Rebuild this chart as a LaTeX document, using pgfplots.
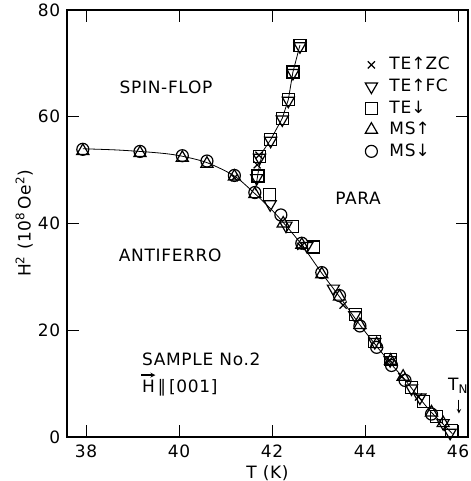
\documentclass[border=0pt]{standalone}
\usepackage{fontspec}
\setmainfont{DejaVu Sans}[LetterSpace=4]
\newfontfamily\sym{DejaVu Sans}
\usepackage{pgfplots}
\pgfplotsset{compat=1.18}
\begin{document}
\fontsize{17}{20}\selectfont
\begin{tikzpicture}
\begin{axis}[
 scale only axis, width=401pt, height=427pt,
 xmin=37.59, xmax=46.215, ymin=0, ymax=80,
 xtick={38,40,42,44,46}, ytick={0,20,40,60,80},
 tick align=inside, major tick length=12pt,
 tick style={line width=1pt, black},
 axis line style={line width=1.6pt},
 /pgf/number format/assume math mode=true,
 xticklabel style={yshift=-2pt},
 yticklabel style={xshift=-1pt},
 xlabel={T (K)},
 ylabel={H\textsuperscript{2} (10\textsuperscript{8}\,Oe\textsuperscript{2})},
 xlabel style={at={(axis description cs:0.5,-0.084)}, anchor=center},
 ylabel style={at={(axis description cs:-0.107,0.5)}, anchor=center},
 legend style={draw=none, fill=none, at={(rel axis cs:0.736,0.899)}, anchor=north west, row sep=2.5pt},
 legend cell align=left,
 clip=false,
]
% phase boundary lines
\addplot[black, line width=0.8pt, smooth, forget plot] table {
37.93 54.0
38.60 53.8
39.16 53.5
39.70 53.1
40.07 52.6
40.60 51.4
41.19 48.9
41.63 45.6
42.00 42.5
42.24 40.2
42.64 36.0
43.07 30.7
43.45 26.3
43.89 21.0
44.25 17.0
44.57 13.6
44.86 10.7
45.15 7.5
45.43 4.6
45.68 2.4
45.88 0.6
};
\addplot[black, line width=0.8pt, forget plot] table {
41.64 46.2
41.71 50.0
41.80 53.5
41.97 55.7
42.22 59.7
42.35 63.2
42.45 68.4
42.60 73.4
};
% TE up ZC
\addplot[only marks, mark=x, mark size=5pt, mark options={line width=1.2pt, black}] table {
41.19 48.6
41.68 51.0
41.72 52.8
42.62 35.7
43.53 24.7
44.53 14.4
44.79 11.3
45.15 7.5
};
% TE up FC
\addplot[only marks, mark=triangle, mark size=7pt, mark options={rotate=180, line width=1.2pt, black, fill=none}] table {
42.60 73.2
42.45 68.2
42.35 63.0
42.22 59.5
41.97 55.5
41.73 52.3
41.67 48.5
41.96 43.6
42.30 39.6
42.75 35.8
43.32 27.8
43.78 22.8
44.21 17.8
44.54 14.4
45.00 9.1
45.18 7.4
45.68 2.6
45.83 0.8
};
% TE down
\addplot[only marks, mark=square, mark size=6pt, mark options={line width=1.2pt, black, fill=none}] table {
42.60 73.4
42.45 68.4
42.35 63.2
42.22 59.7
41.97 55.7
41.73 52.5
41.70 48.9
41.94 45.5
42.44 39.4
42.89 35.6
43.80 22.9
44.21 17.9
44.54 14.5
45.00 9.3
45.25 6.6
45.54 3.8
45.86 1.2
};
% MS up
\addplot[only marks, mark=triangle, mark size=7pt, mark options={line width=1.2pt, black, fill=none}] table {
37.93 53.6
39.16 53.2
40.07 52.3
40.60 51.2
41.19 48.8
41.63 45.5
42.24 40.0
42.64 36.0
43.07 30.5
43.45 26.3
43.89 21.0
44.25 17.4
44.55 14.3
44.82 11.3
45.43 4.6
45.68 2.6
};
% MS down
\addplot[only marks, mark=o, mark size=6pt, mark options={line width=1.2pt, black, fill=none}] table {
37.93 53.9
39.16 53.5
40.07 52.7
40.60 51.7
41.19 49.0
41.63 45.8
42.19 41.6
42.64 36.3
43.07 30.8
43.45 26.5
43.89 20.8
44.25 16.8
44.57 13.4
44.86 10.6
45.43 4.3
};
\legend{\hspace{10pt}TE{\sym↑}ZC, \hspace{10pt}TE{\sym↑}FC, \hspace{10pt}TE{\sym↓}, \hspace{10pt}MS{\sym↑}, \hspace{10pt}MS{\sym↓}}
\node at (axis cs:39.72,65.6) {SPIN-FLOP};
\node at (axis cs:39.81,34.1) {ANTIFERRO};
\node at (axis cs:43.85,44.8) {PARA};
\node[anchor=west, inner sep=0pt] at (axis cs:39.2,14.6) {SAMPLE No.2};
\node[anchor=west, inner sep=0pt] at (axis cs:39.2,9.3) {H\,{\sym ∥}\,[001]};
\draw[-stealth, line width=1.2pt] (axis cs:39.19,11.6) -- (axis cs:39.49,11.6);
\node at (axis cs:46.0,9.6) {T\textsubscript{N}};
\draw[-stealth, line width=1pt] (axis cs:46.02,7.0) -- (axis cs:46.02,4.4);
\end{axis}
\pgfresetboundingbox
\path (current axis.south west) ++(-67pt,-44pt) rectangle ([xshift=2pt,yshift=10pt]current axis.north east);
\end{tikzpicture}
\end{document}
